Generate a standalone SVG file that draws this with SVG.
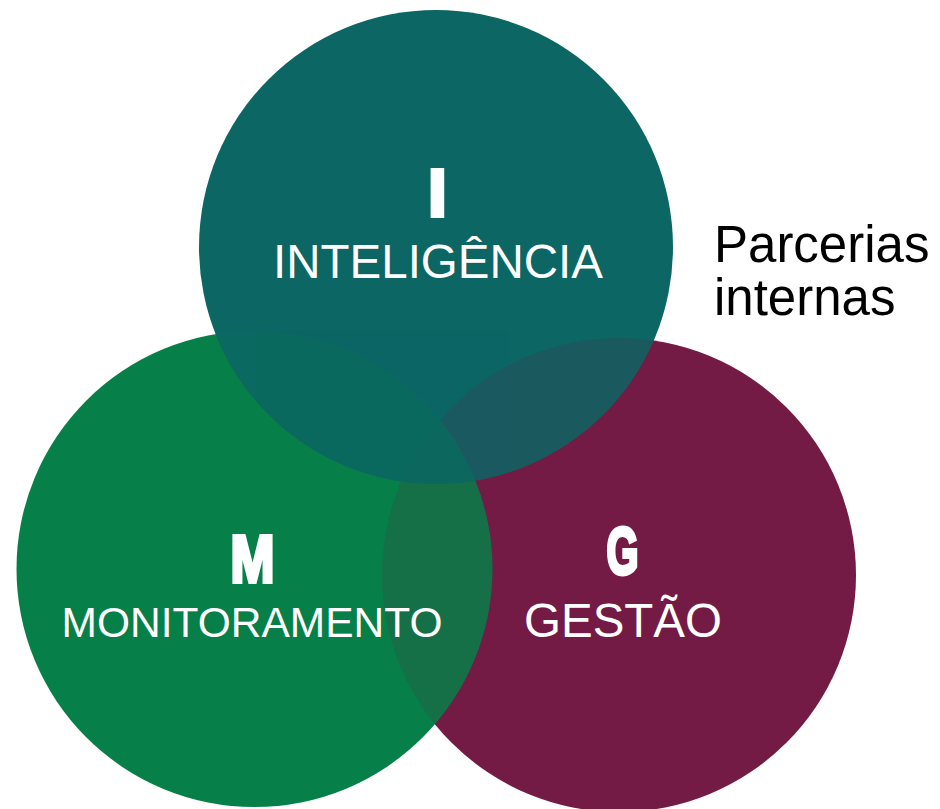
<svg xmlns="http://www.w3.org/2000/svg" xmlns:xlink="http://www.w3.org/1999/xlink" width="940" height="809" viewBox="0 0 940 809">
<style>
.lbl{font-family:"Liberation Sans",Arial,sans-serif;fill:#fff;text-anchor:middle}
.big{font-family:"Liberation Sans",Arial,sans-serif;font-weight:bold;fill:#fff;stroke:#fff;stroke-width:4;stroke-linejoin:miter;text-anchor:middle}
.side{font-family:"Liberation Sans",Arial,sans-serif;fill:#000;font-size:51px}
</style>
<defs>
<circle id="cT" cx="436" cy="247" r="237"/>
<circle id="cM" cx="254.5" cy="569" r="238"/>
<circle id="cG" cx="619" cy="575" r="237"/>
<clipPath id="clipT"><use xlink:href="#cT"/></clipPath>
<clipPath id="clipM"><use xlink:href="#cM"/></clipPath>
<g id="lower">
<use xlink:href="#cG" fill="#731a45"/>
<use xlink:href="#cM" fill="#067f48"/>
<use xlink:href="#cG" fill="#731a45" fill-opacity="0.15" clip-path="url(#clipM)"/>
</g>
</defs>
<rect width="940" height="809" fill="#fff"/>
<g id="node-gestao">
<use xlink:href="#cG" fill="#731a45"/>
</g>
<g id="node-monitoramento">
<use xlink:href="#cM" fill="#067f48"/>
<use xlink:href="#cG" fill="#731a45" fill-opacity="0.15" clip-path="url(#clipM)"/>
</g>
<g id="node-inteligencia">
<use xlink:href="#cT" fill="#0b6664"/>
<g clip-path="url(#clipT)" opacity="0.15"><use xlink:href="#lower"/></g>
</g>
<g id="labels">
<text class="big" x="437.5" y="216" font-size="66">I</text>
<text class="lbl" x="438" y="278" font-size="47.5">INTELIGÊNCIA</text>
<text class="big" x="252.5" y="582" font-size="66" textLength="44" lengthAdjust="spacingAndGlyphs">M</text>
<text class="lbl" x="252" y="637" font-size="42.5">MONITORAMENTO</text>
<text class="big" x="622.5" y="574" font-size="66" textLength="32" lengthAdjust="spacingAndGlyphs">G</text>
<text class="lbl" x="623" y="637" font-size="47.5">GESTÃO</text>
</g>
<g id="node-parcerias">
<text class="side" x="714" y="262">Parcerias</text>
<text class="side" x="714" y="315">internas</text>
</g>
<g id="connectors"/>
</svg>
